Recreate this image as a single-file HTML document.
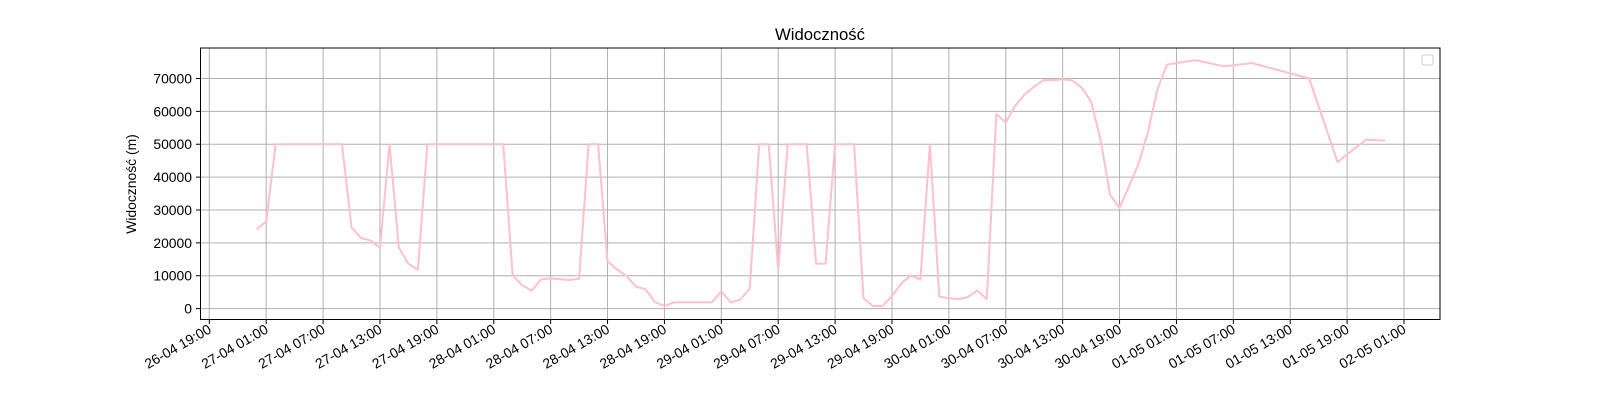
<!DOCTYPE html>
<html><head><meta charset="utf-8"><style>
body{margin:0;background:#fff;}
svg{font-family:"Liberation Sans","DejaVu Sans",sans-serif;}
</style></head><body>
<svg id="chart" width="1600" height="400" xmlns="http://www.w3.org/2000/svg">
<rect width="1600" height="400" fill="#fff"/>
<text x="820" y="40" text-anchor="middle" font-size="16.7">Widoczność</text>
<g id="grid"></g>
<g id="series"></g>
<rect x="200.5" y="48" width="1239.5" height="271.5" fill="none" stroke="#000" stroke-width="1"/>
<g id="axes"></g>
<text transform="translate(136,184) rotate(-90)" text-anchor="middle" font-size="13.9">Widoczność (m)</text>
<rect x="1422" y="55" width="11" height="10" rx="2" fill="#fff" stroke="#ccc"/>
</svg>
<script>
const hours = [5,6,7,8,9,10,11,12,13,14,15,16,17,18,19,20,21,22,23,24,25,26,27,28,29,30,31,32,33,34,35,36,37,38,39,40,41,42,43,44,45,46,47,48,49,50,51,52,53,54,55,56,57,58,59,60,61,62,63,64,65,66,67,68,69,70,71,72,73,74,75,76,77,78,79,80,81,82,83,84,85,86,87,88,89,90,91,92,93,94,95,96,97,98,99,100,101,102,104,107,110,116,119,122,124];
const values = [24200,26500,50000,50000,50000,50000,50000,50000,50000,50000,24700,21500,20700,18500,50000,18500,13600,11900,50000,50000,50000,50000,50000,50000,50000,50000,50000,10100,7100,5400,8900,9200,8900,8700,9100,50000,50000,14400,11900,9900,6700,5900,2000,800,1900,1900,1900,1900,1900,5200,1900,2700,6200,50000,50000,11900,50000,50000,50000,13700,13700,50000,50000,50000,3200,800,800,3800,7700,10100,8800,50000,3600,3200,2900,3500,5500,2900,59100,56600,61700,65200,67500,69500,69500,69800,69400,67300,62900,51300,34600,30600,37200,44000,53800,66700,74200,74700,75600,73700,74700,70000,44600,51400,51100];
const yTicks = [0,10000,20000,30000,40000,50000,60000,70000];
const xTickLabels = ["26-04 19:00","27-04 01:00","27-04 07:00","27-04 13:00","27-04 19:00","28-04 01:00","28-04 07:00","28-04 13:00","28-04 19:00","29-04 01:00","29-04 07:00","29-04 13:00","29-04 19:00","30-04 01:00","30-04 07:00","30-04 13:00","30-04 19:00","01-05 01:00","01-05 07:00","01-05 13:00","01-05 19:00","02-05 01:00"];
const NS="http://www.w3.org/2000/svg";
const X0=209.3, X1=1404, Y0=308.6, Y70=78.5;
const xs=h=>X0+h*(X1-X0)/126;
const ys=v=>Y0-v*(Y0-Y70)/70000;
const grid=document.getElementById('grid'), axes=document.getElementById('axes'), series=document.getElementById('series');
function mk(tag,attrs,parent){const e=document.createElementNS(NS,tag);for(const k in attrs)e.setAttribute(k,attrs[k]);parent.appendChild(e);return e;}
yTicks.forEach(v=>{
  const y=ys(v);
  const g=mk('line',{x1:200.5,x2:1440,y1:y,y2:y,stroke:'#b0b0b0','stroke-width':1},grid);
  
  
  mk('line',{x1:196,x2:200.5,y1:y,y2:y,stroke:'#000'},axes);
  const t=mk('text',{x:192,y:y+5,'text-anchor':'end','font-size':13.9},axes);
  t.textContent=v;
  
  
});
xTickLabels.forEach((lab,i)=>{
  const x=xs(i*6);
  const g=mk('line',{x1:x,x2:x,y1:48,y2:319.5,stroke:'#b0b0b0','stroke-width':1},grid);
  
  
  mk('line',{x1:x,x2:x,y1:319.5,y2:324,stroke:'#000'},axes);
  const t=mk('text',{transform:`translate(${x+3},${332}) rotate(-30)`,'text-anchor':'end','font-size':13.9},axes);
  t.textContent=lab;
  
  
});
const pts=hours.map((h,i)=>xs(h).toFixed(1)+','+ys(values[i]).toFixed(1)).join(' ');
const pl=mk('polyline',{points:pts,fill:'none',stroke:'#ffc0cb','stroke-width':2,'stroke-linejoin':'round'},series);


</script>
</body></html>
